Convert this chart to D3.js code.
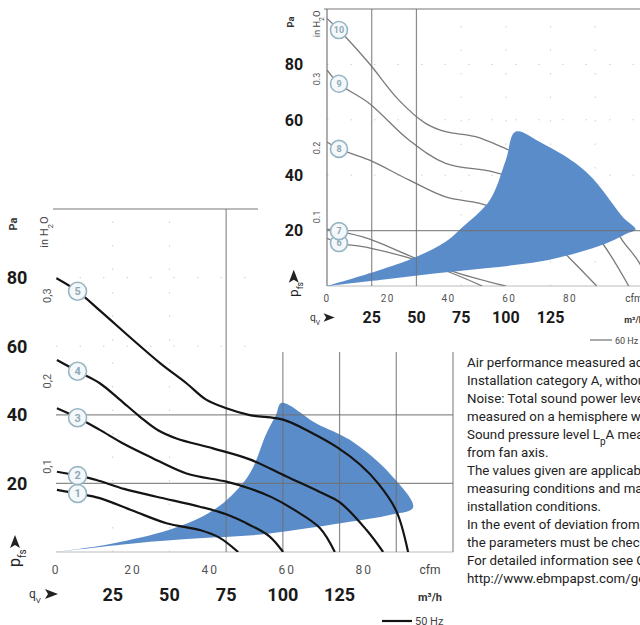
<!DOCTYPE html>
<html>
<head>
<meta charset="UTF-8">
<title>Fan air performance</title>
<script src="https://cdnjs.cloudflare.com/ajax/libs/d3/7.8.5/d3.min.js"></script>
<style>
	body { margin: 0; background: #fff; overflow: hidden; }
	svg text { font-family: Roboto, "Liberation Sans", sans-serif; }
</style>
</head>
<body>
<svg id="chart" width="640" height="625"></svg>
<script>
// 50 Hz curves, [q m3/h, p Pa]
var curve1 = [[0.4,18.1],[10,17],[19.3,15.7],[34,12],[48.7,8.4],[63.4,6.4],[72,4.2],[80.3,0]];
var curve2 = [[0.4,23.4],[10,22.2],[17.8,21],[30,18.4],[44.3,16.1],[63.4,13.2],[75,11],[85.4,7.9],[94.2,4.5],[100.1,0]];
var curve3 = [[0.4,41.9],[10,39],[19.3,35.6],[30,31.5],[41.3,27.8],[57.5,22.9],[75.1,20.5],[85.4,18.5],[95,16],[104.5,12.5],[116.3,7],[122.9,0]];
var curve4 = [[0.4,56],[10,52.5],[19.3,49.2],[28,44.5],[36.9,39.5],[45,35.5],[53.1,33.1],[69.2,30.2],[85.4,27],[101.6,22],[116.3,17.5],[125.1,14.5],[136.9,6.4],[144.2,0]];
var curve5 = [[0.2,79.8],[9.5,76],[20,70],[34,61.8],[46,55],[57.5,49.2],[66,44.5],[75.1,41.9],[85.4,39.9],[100.1,38.6],[112,35],[124,30.5],[134,25.5],[142,20],[150,12],[155.2,0]];
var names50 = ["1","2","3","4","5"];
// operating range 50 Hz
var range50 = [[0,0],[34,2.5],[63,4],[85,4.8],[100,5.9],[129.5,8.8],[147,10.8],[157.4,13],[147.1,22.9],[129.5,32.7],[114.8,37.5],[99.4,43.5],[97,40],[92.8,34.6],[85.4,22.9],[75,15],[65,10.5],[50,6.5],[25,2.5],[0,0]];

// 60 Hz curves (inset)
var curve6 = [[0,17.2],[6.7,15.5],[23.5,13.8],[49.6,9.4],[70,4.6],[86.8,0]];
var curve7 = [[0,20.5],[6.7,19.8],[23.5,17],[49.6,10],[73.7,4.6],[99.8,0]];
var curve8 = [[0,52],[6.7,49.5],[23.5,45.5],[45.8,38.3],[66.3,32.2],[84.9,29.9],[100,26.5],[118,21],[135,10.5],[150.8,0]];
var curve9 = [[0,78],[6.7,73],[23.5,66],[45.8,52.7],[66.3,44.3],[92.3,41.3],[110,37.5],[130,30],[145,22],[154.7,14.8],[168.7,0]];
var curve10 = [[0,96.6],[6.7,92.4],[23.5,80.4],[40.2,67.1],[55.1,58.7],[66.3,55.7],[83.1,53.9],[101.7,49.1],[125,43],[145,34],[158,24],[165,16.6],[174.3,8.7],[179,2]];
var names60 = ["6","7","8","9","10"];
var range60 = [[0,0],[29.6,2.2],[60,4.5],[90,6.5],[119,8.8],[140,12],[156.3,15.4],[168,19],[172.5,20.5],[166,24.5],[158.2,31],[149,38.5],[139,44.3],[120.3,51.5],[105.4,55.7],[100,45.5],[91,31],[76,21.4],[66.3,16],[48,10],[29.6,5.8],[0,0]];

var paTicks = [20,40,60,80];
var inchTicks = [0.1,0.2,0.3];
var flowTicks = [25,50,75,100,125];
var cfmTicks = [0,20,40,60,80];

var noteLines = [
	"Air performance measured according to ISO 5801.",
	"Installation category A, without contact protection.",
	"Noise: Total sound power level LwA ISO 13347, LpA",
	"measured on a hemisphere with 1 m radius.",
	"Sound pressure level LpA measured at 1 m distance",
	"from fan axis.",
	"The values given are applicable only under the specified",
	"measuring conditions and may differ depending on the",
	"installation conditions.",
	"In the event of deviation from the standard configuration,",
	"the parameters must be checked once installed.",
	"For detailed information see Chapter Technical Appendix",
	"http://www.ebmpapst.com/general_conditions"
];

var PA_PER_INCH = 249.09, M3H_PER_CFM = 1.699;
var svg = d3.select('#chart');
var blue = '#5b8cca';

function lerp(pts, q) {
	for (var i = 1; i < pts.length; i++) {
		if (pts[i][0] >= q) {
			var a = pts[i-1], b = pts[i];
			return a[1] + (b[1]-a[1]) * (q-a[0]) / (b[0]-a[0]);
		}
	}
	return pts[pts.length-1][1];
}

function arrowUp(g, cx, top) {
	g.append('path').attr('d', 'M' + cx + ',' + top + ' L' + (cx+5) + ',' + (top+13) + ' L' + cx + ',' + (top+10) + ' L' + (cx-5) + ',' + (top+13) + 'Z').attr('fill', '#222');
}
function arrowRight(g, left, cy, s) {
	g.append('path').attr('d', 'M' + (left+13*s) + ',' + cy + ' L' + left + ',' + (cy-5*s) + ' L' + (left+3*s) + ',' + cy + ' L' + left + ',' + (cy+5*s) + 'Z').attr('fill', '#222');
}

function drawChart(o) {
	var g = svg.append('g');
	var x = d3.scaleLinear().domain([0,175]).range(o.xr);
	var y = d3.scaleLinear().domain([0,100]).range(o.yr);
	var xc = d3.scaleLinear().domain([0,175/M3H_PER_CFM]).range(o.xr);
	var line = d3.line().x(function (d) { return x(d[0]); }).y(function (d) { return y(d[1]); }).curve(d3.curveCatmullRom.alpha(0.5));
	var clipId = 'clip' + o.id;
	g.append('clipPath').attr('id', clipId).append('rect')
		.attr('x', x(0)).attr('y', y(100)).attr('width', x(175)-x(0)).attr('height', y(0)-y(100));

	// faint dotted grid
	g.selectAll('line.dh').data(o.dotP).enter().append('line')
		.attr('x1', x(0)).attr('x2', x(175)).attr('y1', function (d) { return y(d); }).attr('y2', function (d) { return y(d); })
		.attr('stroke', '#cfcfcf').attr('stroke-dasharray', '1.5,22');
	g.selectAll('line.dv').data(o.dotQ).enter().append('line')
		.attr('y1', y(0)).attr('y2', y(100)).attr('x1', function (d) { return x(d); }).attr('x2', function (d) { return x(d); })
		.attr('stroke', '#cfcfcf').attr('stroke-dasharray', '1.5,22');

	// baseline
	g.append('line').attr('x1', x(0)).attr('x2', x(175)).attr('y1', y(0)).attr('y2', y(0)).attr('stroke', '#bbb').attr('stroke-width', 1.2);

	var curvesG = g.append('g').attr('clip-path', 'url(#' + clipId + ')');
	var areaG = g.append('g').attr('clip-path', 'url(#' + clipId + ')');
	var gridG = g.append('g');

	areaG.append('path').attr('d', line(o.range)).attr('fill', blue);

	gridG.selectAll('line.h').data(o.gridP).enter().append('line')
		.attr('x1', x(0)).attr('x2', x(175)).attr('y1', function (d) { return y(d); }).attr('y2', function (d) { return y(d); })
		.attr('stroke', '#6f6f6f').attr('stroke-opacity', 0.8).attr('stroke-width', 1.2);
	gridG.selectAll('line.v').data(o.gridQ).enter().append('line')
		.attr('y1', y(0)).attr('y2', y(100)).attr('x1', function (d) { return x(d); }).attr('x2', function (d) { return x(d); })
		.attr('stroke', '#6f6f6f').attr('stroke-opacity', 0.8).attr('stroke-width', 1.2);
	if (o.leftAxis) {
		gridG.append('line').attr('x1', x(0)).attr('x2', x(0)).attr('y1', y(0)).attr('y2', y(100)).attr('stroke', '#777').attr('stroke-width', 1.2);
	}
	gridG.append('line').attr('x1', x(0) - 3).attr('x2', o.topEnd).attr('y1', y(100)).attr('y2', y(100)).attr('stroke', '#777').attr('stroke-width', 1.2);

	curvesG.selectAll('path').data(o.curves).enter().append('path')
		.attr('d', line).attr('fill', 'none').attr('stroke', o.curveColor).attr('stroke-width', o.curveWidth);
	if (o.curvesOnTop) { curvesG.raise(); }

	// number badges
	var badge = g.selectAll('g.badge').data(o.curves).enter().append('g')
		.attr('transform', function (d) { return 'translate(' + x(o.badgeQ) + ',' + y(lerp(d, o.badgeQ)) + ')'; });
	badge.append('circle').attr('r', o.badgeR).attr('fill', '#f4f8fa').attr('stroke', '#97b5c3').attr('stroke-width', 1.6);
	badge.append('text').text(function (d, i) { return o.names[i]; })
		.attr('text-anchor', 'middle').attr('dy', '0.35em').attr('fill', '#8fa9b6')
		.attr('font-size', o.badgeFont).attr('font-weight', 'bold');

	// pressure ticks
	g.selectAll('text.pa').data(paTicks).enter().append('text')
		.text(function (d) { return d; }).attr('x', o.paX).attr('y', function (d) { return y(d); })
		.attr('dy', '0.36em').attr('text-anchor', 'middle').attr('font-size', o.paFont).attr('font-weight', 'bold').attr('fill', '#1a1a1a');
	g.selectAll('text.inch').data(inchTicks).enter().append('text')
		.text(function (d) { return o.dec(d); })
		.attr('transform', function (d) { return 'translate(' + o.inchX + ',' + y(d * PA_PER_INCH) + ') rotate(-90)'; })
		.attr('text-anchor', 'middle').attr('dy', '0.35em').attr('font-size', o.inchFont).attr('fill', '#555');

	// flow ticks
	g.selectAll('text.cfm').data(cfmTicks).enter().append('text')
		.text(function (d) { return d; }).attr('x', function (d) { return xc(d); }).attr('y', o.cfmY)
		.attr('text-anchor', 'middle').attr('font-size', o.cfmFont).attr('letter-spacing', o.cfmSpace).attr('fill', '#555');
	g.selectAll('text.m3h').data(flowTicks).enter().append('text')
		.text(function (d) { return d; }).attr('x', function (d) { return x(d); }).attr('y', o.m3hY)
		.attr('text-anchor', 'middle').attr('font-size', o.m3hFont).attr('font-weight', 'bold').attr('fill', '#1a1a1a');
	g.append('text').text('cfm').attr('x', o.unitX).attr('y', o.cfmY).attr('text-anchor', 'middle').attr('font-size', o.cfmFont).attr('fill', '#444');
	g.append('text').text('m³/h').attr('x', o.unitX).attr('y', o.m3hY).attr('text-anchor', 'middle')
		.attr('font-size', o.unitFont).attr('font-weight', 'bold').attr('fill', '#333');

	// axis titles
	var s = o.titleScale;
	g.append('text').text('Pa').attr('transform', 'translate(' + o.paTitle[0] + ',' + o.paTitle[1] + ') rotate(-90)')
		.attr('text-anchor', 'middle').attr('dy', '0.35em').attr('font-size', 11 * s).attr('font-weight', 'bold').attr('fill', '#333');
	var ih = g.append('text').attr('transform', 'translate(' + o.inchTitle[0] + ',' + o.inchTitle[1] + ') rotate(-90)')
		.attr('text-anchor', 'middle').attr('dy', '0.35em').attr('font-size', 11 * s).attr('fill', '#444');
	ih.append('tspan').text('in H');
	ih.append('tspan').text('2').attr('font-size', 8 * s).attr('baseline-shift', 'sub');
	ih.append('tspan').text('O');
	arrowUp(g, o.pfs[0] - 5 * s, o.pfs[1] - 32 * s);
	var pf = g.append('text').attr('transform', 'translate(' + o.pfs[0] + ',' + o.pfs[1] + ') rotate(-90)')
		.attr('text-anchor', 'start').attr('font-size', 16 * s).attr('fill', '#222');
	pf.append('tspan').text('p');
	pf.append('tspan').text('fs').attr('font-size', 10 * s).attr('baseline-shift', 'sub');
	var qv = g.append('text').attr('x', o.qv[0]).attr('y', o.qv[1]).attr('font-size', 12 * s).attr('fill', '#333');
	qv.append('tspan').text('q');
	qv.append('tspan').text('V').attr('font-size', 8 * s).attr('baseline-shift', 'sub');
	arrowRight(g, o.qv[0] + 16 * s, o.qv[1] - 4 * s, s);

	// legend
	g.append('line').attr('x1', o.legend[0]).attr('x2', o.legend[0] + o.legend[2]).attr('y1', o.legend[1]).attr('y2', o.legend[1])
		.attr('stroke', o.curveColor).attr('stroke-width', o.curveWidth);
	g.append('text').text(o.hz).attr('x', o.legend[0] + o.legend[2] + 3).attr('y', o.legend[1] + 4)
		.attr('font-size', o.legendFont).attr('fill', '#444');
	return g;
}

// main chart (50 Hz)
drawChart({
	id: 'a', xr: [56,453], yr: [552,209], topEnd: 260,
	curves: [curve1, curve2, curve3, curve4, curve5], names: names50, range: range50,
	curveColor: '#141414', curveWidth: 2.2, curvesOnTop: true,
	gridP: [20,40], gridQ: [75,100,125,150,175], dotP: [60,80], dotQ: [25,50], leftAxis: false,
	badgeQ: 9.5, badgeFont: 11, badgeR: 9,
	paX: 17, paFont: 18, inchX: 47, inchFont: 11, dec: function (d) { return String(d).replace('.', ','); },
	cfmY: 574, cfmFont: 12, cfmSpace: 2, m3hY: 601, m3hFont: 18, unitX: 430, unitFont: 11,
	titleScale: 1, paTitle: [13,224], inchTitle: [44,232], pfs: [20,567], qv: [29,598],
	legend: [382,621,30], hz: '50 Hz', legendFont: 11
});

// inset chart (60 Hz) on its own white card
svg.append('rect').attr('x', 258).attr('y', 0).attr('width', 382).attr('height', 352).attr('fill', '#fff');
drawChart({
	id: 'b', xr: [327,640], yr: [286,9], topEnd: 640,
	curves: [curve6, curve7, curve8, curve9, curve10], names: names60, range: range60,
	curveColor: '#7a7a7a', curveWidth: 1.3, curvesOnTop: false,
	gridP: [20], gridQ: [25,50], dotP: [40,60,80], dotQ: [75,100,125,150], leftAxis: true,
	badgeQ: 6.7, badgeFont: 9, badgeR: 8.5,
	paX: 294, paFont: 16, inchX: 317, inchFont: 9, dec: function (d) { return String(d); },
	cfmY: 302, cfmFont: 10, cfmSpace: 1.5, m3hY: 323, m3hFont: 16, unitX: 634, unitFont: 9,
	titleScale: 0.85, paTitle: [291,22], inchTitle: [317,24], pfs: [298,297], qv: [310,321],
	legend: [590,340,22], hz: '60 Hz', legendFont: 9
});

// notes
var notes = svg.append('g').attr('font-size', 13.3).attr('fill', '#222');
notes.selectAll('text').data(noteLines).enter().append('text')
	.attr('x', 467).attr('y', function (d, i) { return 367 + i * 18; })
	.each(function (d) {
		var t = d3.select(this);
		var parts = d.split(/L(p|w)A/);
		parts.forEach(function (p, i) {
			if (i % 2 === 0) { t.append('tspan').text(p); }
			else {
				t.append('tspan').text('L');
				t.append('tspan').text(p).attr('font-size', 10).attr('baseline-shift', 'sub');
				t.append('tspan').text('A');
			}
		});
	});
</script>
</body>
</html>
